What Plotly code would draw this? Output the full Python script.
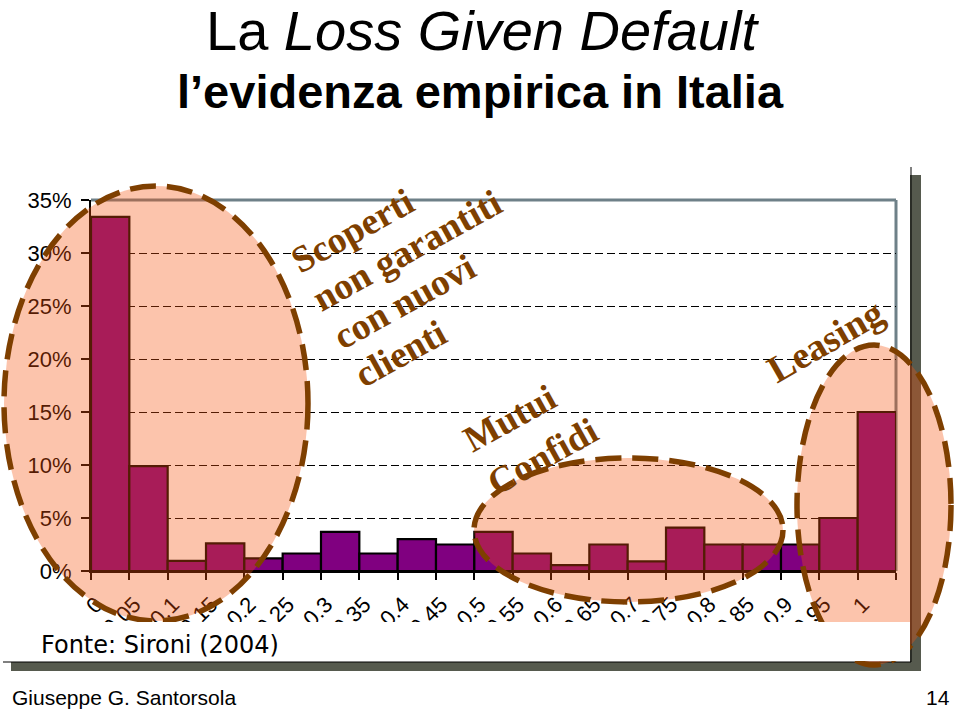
import plotly.graph_objects as go

# ---------------- data ----------------
categories = ["0", "0.05", "0.1", "0.15", "0.2", "0.25", "0.3", "0.35", "0.4", "0.45",
              "0.5", "0.55", "0.6", "0.65", "0.7", "0.75", "0.8", "0.85", "0.9", "0.95", "1"]
lgd_share = [33.4, 9.9, 0.95, 2.6, 1.2, 1.65, 3.7, 1.65, 3.0, 2.5,
             3.7, 1.65, 0.55, 2.5, 0.9, 4.1, 2.5, 2.5, 2.5, 5.0, 15.0]
y_ticks = [0, 5, 10, 15, 20, 25, 30, 35]
y_tick_labels = ["0%", "5%", "10%", "15%", "20%", "25%", "30%", "35%"]

title_main = "La <i>Loss Given Default</i>"
title_sub = "<b>l\u2019evidenza empirica in Italia</b>"
note_left_lines = ["Scoperti", "non garantiti", "con nuovi", "clienti"]
note_mid_lines = ["Mutui", "Confidi"]
note_right = "Leasing"
source_text = "Fonte: Sironi (2004)"
footer_author = "Giuseppe G. Santorsola"
footer_page = "14"

# ---------------- layout helpers (pixel -> paper) ----------------
W, H = 960, 710
PL, PR, PT, PB = 91, 896, 200, 571


def px(x):
    return (x - PL) / (PR - PL)


def py(y):
    return (PB - y) / (PB - PT)


def serif_block(lines, glyph_px):
    return "<br>".join(
        f"<b><span style=\"font-size:{glyph_px}px\">{s}</span></b>" for s in lines)


BROWN = "#7E3F00"
FILL = "rgba(246,82,12,0.34)"
SERIF = "Liberation Serif, Times New Roman, serif"
SANS = "Liberation Sans, Arial, sans-serif"

fig = go.Figure()
fig.add_trace(go.Bar(
    x=categories, y=lgd_share,
    marker=dict(color="#800080", line=dict(color="black", width=2.2)),
    hoverinfo="skip",
))

shapes = []
# chart frame shadow + white frame
shapes.append(dict(type="rect", xref="paper", yref="paper", layer="below",
                   x0=px(11), x1=px(921), y0=py(671), y1=py(175),
                   fillcolor="#565A4E", line=dict(width=0)))
shapes.append(dict(type="rect", xref="paper", yref="paper", layer="below",
                   x0=px(3), x1=px(910), y0=py(662), y1=py(167),
                   fillcolor="white", line=dict(width=0)))
shapes.append(dict(type="line", xref="paper", yref="paper", layer="below",
                   x0=px(911), x1=px(911), y0=py(662), y1=py(167),
                   line=dict(color="black", width=1)))
shapes.append(dict(type="line", xref="paper", yref="paper", layer="below",
                   x0=px(3), x1=px(911), y0=py(662), y1=py(662),
                   line=dict(color="black", width=1)))
# plot border (gray top & right)
shapes.append(dict(type="line", xref="paper", yref="paper", layer="below",
                   x0=1, x1=1, y0=0, y1=1, line=dict(color="#6E8088", width=3)))
shapes.append(dict(type="line", xref="paper", yref="paper", layer="above",
                   x0=0, x1=1, y0=1, y1=1, line=dict(color="#6E8088", width=3)))

ellipses = [(4, 308, 186, 621), (474, 783, 458, 602), (797, 951, 345, 665)]
for x0, x1, y0, y1 in ellipses:
    shapes.append(dict(type="circle", xref="paper", yref="paper", layer="above",
                       x0=px(x0), x1=px(x1), y0=py(y1), y1=py(y0),
                       fillcolor=FILL, line=dict(width=0)))
for x0, x1, y0, y1 in ellipses:
    shapes.append(dict(type="circle", xref="paper", yref="paper", layer="above",
                       x0=px(x0), x1=px(x1), y0=py(y1), y1=py(y0),
                       fillcolor="rgba(0,0,0,0)",
                       line=dict(color=BROWN, width=5.5, dash="26px,11px")))
# source box covering bottom of labels
shapes.append(dict(type="rect", xref="paper", yref="paper", layer="above",
                   x0=px(3), x1=px(910), y0=py(661), y1=py(622),
                   fillcolor="white", line=dict(width=0)))

ann = []
ann.append(dict(text=title_main, x=px(482), y=py(31), xref="paper", yref="paper",
                showarrow=False, xanchor="center", yanchor="middle", borderpad=0,
                font=dict(family=SANS, size=56, color="black")))
ann.append(dict(text=title_sub, x=px(480), y=py(91), xref="paper", yref="paper",
                showarrow=False, xanchor="center", yanchor="middle", borderpad=0,
                font=dict(family=SANS, size=47, color="black")))
ann.append(dict(text=serif_block(note_left_lines, 37.5), x=px(417), y=py(270),
                xref="paper", yref="paper",
                showarrow=False, xanchor="center", yanchor="middle", align="left",
                textangle=-29, font=dict(family=SERIF, size=33.5, color=BROWN)))
ann.append(dict(text=serif_block(note_mid_lines, 37), x=px(530), y=py(435),
                xref="paper", yref="paper",
                showarrow=False, xanchor="center", yanchor="middle", align="left",
                textangle=-29, font=dict(family=SERIF, size=38, color=BROWN)))
ann.append(dict(text=serif_block([note_right], 38), x=px(825), y=py(341),
                xref="paper", yref="paper",
                showarrow=False, xanchor="center", yanchor="middle", align="left",
                textangle=-30, font=dict(family=SERIF, size=38, color=BROWN)))
ann.append(dict(text=source_text, x=px(39), y=py(645), xref="paper", yref="paper",
                showarrow=False, xanchor="left", yanchor="middle",
                font=dict(family="DejaVu Sans, Verdana, sans-serif", size=24, color="black")))
ann.append(dict(text=footer_author, x=px(10), y=py(697), xref="paper", yref="paper",
                showarrow=False, xanchor="left", yanchor="middle",
                font=dict(family=SANS, size=21, color="black")))
ann.append(dict(text=footer_page, x=px(952), y=py(697), xref="paper", yref="paper",
                showarrow=False, xanchor="right", yanchor="middle",
                font=dict(family=SANS, size=21, color="black")))

fig.update_layout(
    width=W, height=H, autosize=False,
    margin=dict(l=PL, r=W - PR, t=PT, b=H - PB, pad=0),
    paper_bgcolor="white", plot_bgcolor="rgba(0,0,0,0)",
    showlegend=False, bargap=0,
    shapes=shapes, annotations=ann,
    xaxis=dict(type="category", tickson="boundaries", ticks="outside", ticklen=7,
               tickwidth=2, tickcolor="black", showline=True, linecolor="black",
               linewidth=2, tickangle=-45, showgrid=False, range=[-0.5, 20.5],
               ticklabelshift=-14, ticklabelstandoff=10, automargin=False,
               tickfont=dict(family=SANS, size=22, color="black")),
    yaxis=dict(range=[0, 35], tickvals=y_ticks, ticktext=y_tick_labels,
               ticks="outside", ticklen=8, tickwidth=2, tickcolor="black",
               showline=True, linecolor="black", linewidth=2, zeroline=False,
               ticklabelstandoff=5, automargin=False,
               showgrid=True, gridcolor="black", gridwidth=1, griddash="8px,4px",
               tickfont=dict(family=SANS, size=22, color="black")),
)

fig.write_html("out.html", config={"displayModeBar": False, "staticPlot": True},
               post_script="document.body.style.margin='0';document.body.style.overflow='hidden';")
